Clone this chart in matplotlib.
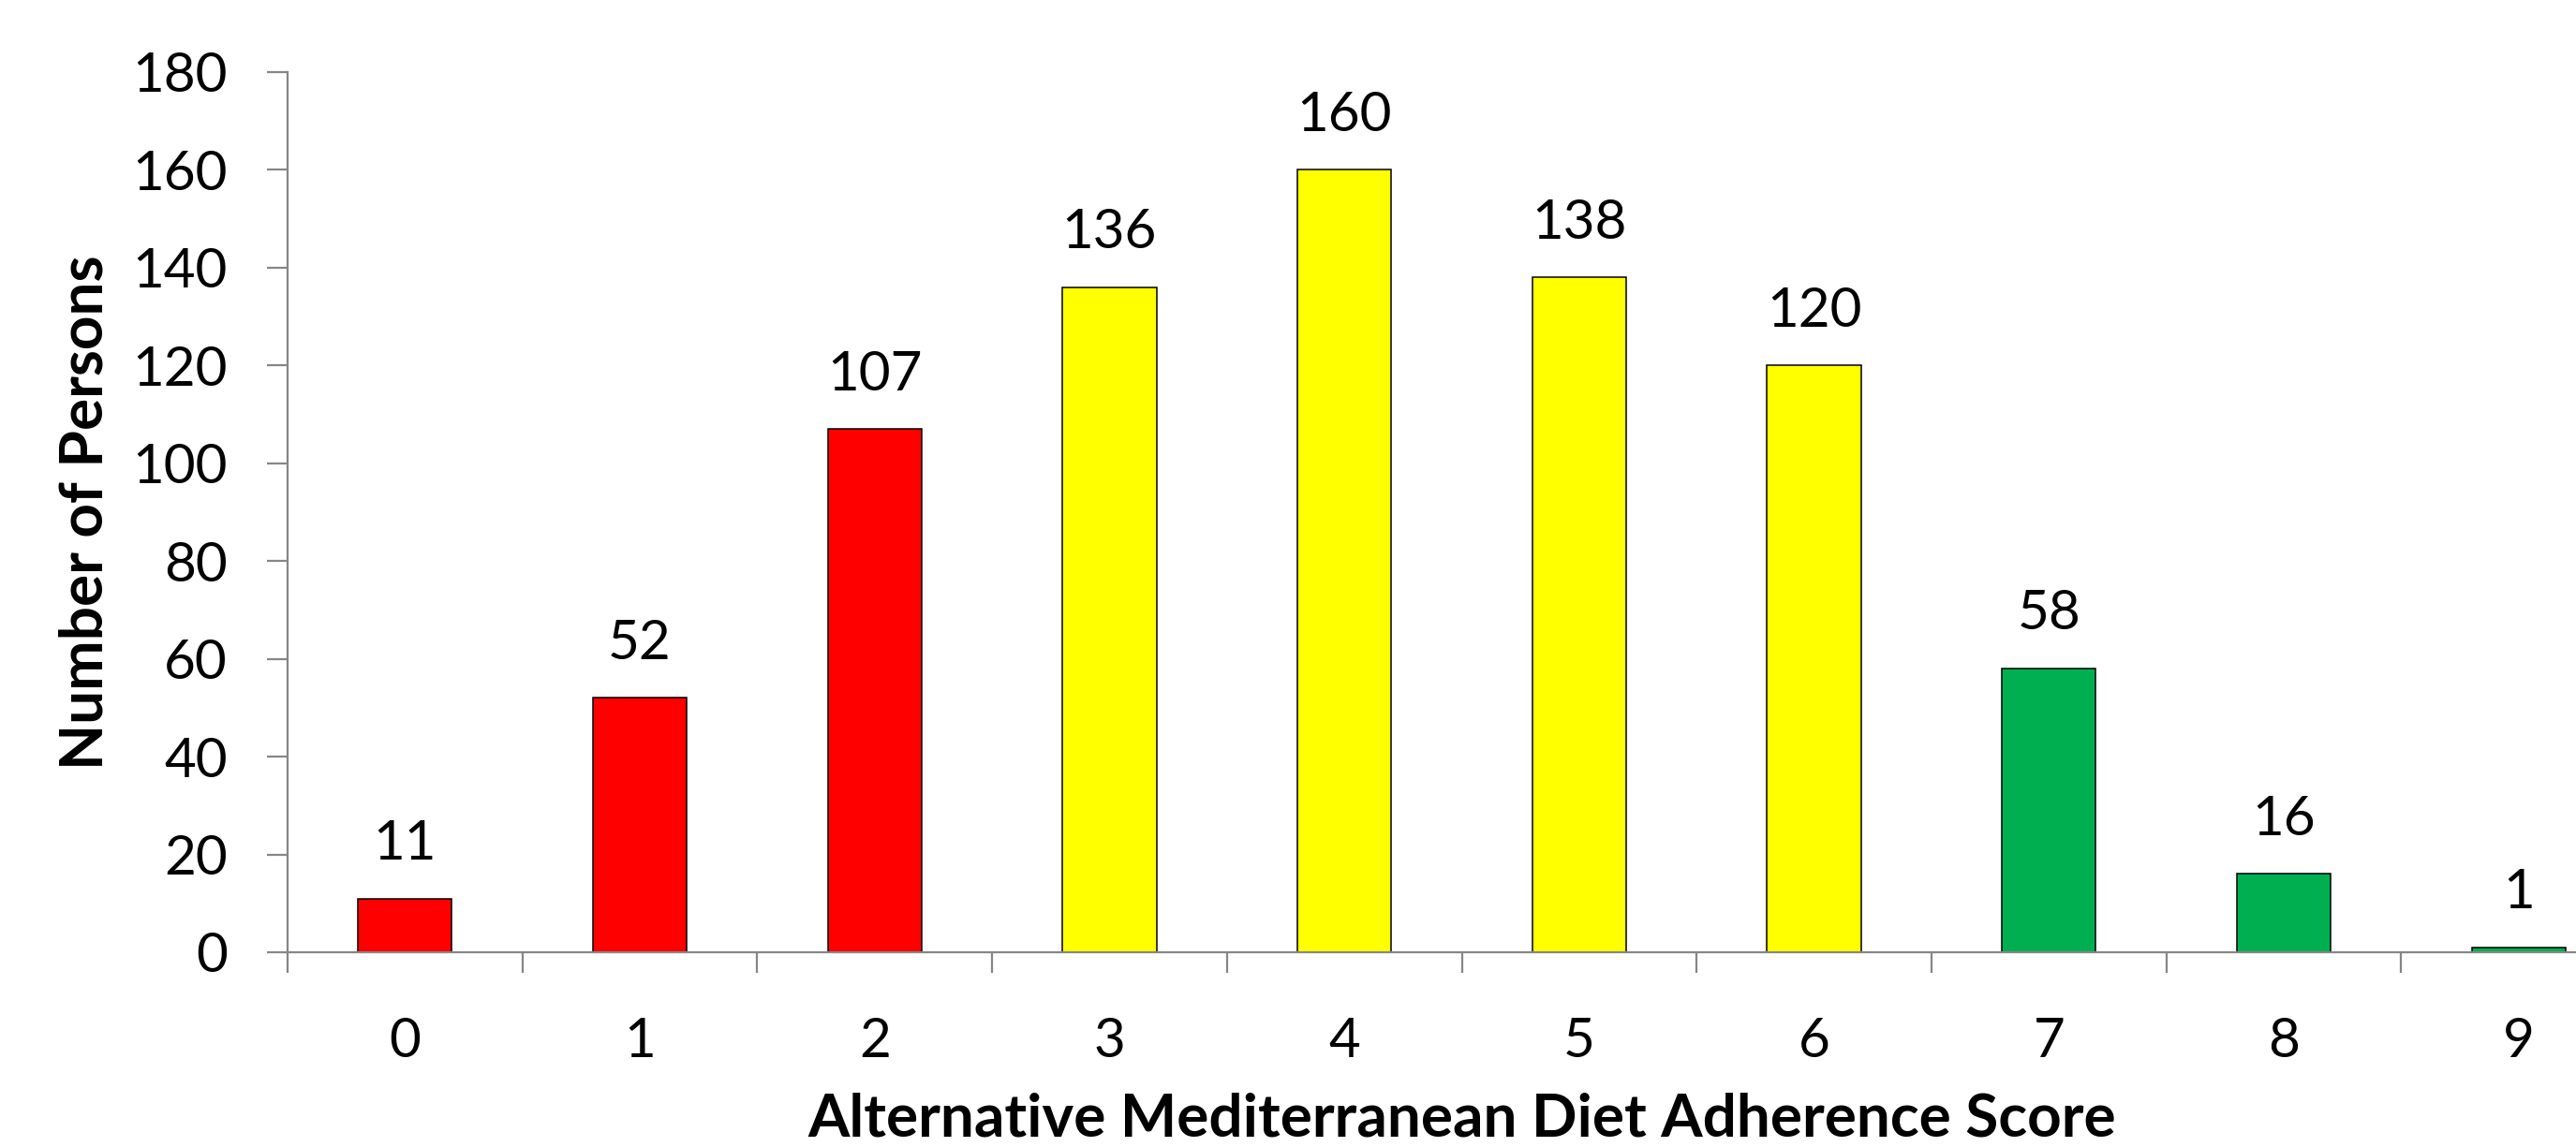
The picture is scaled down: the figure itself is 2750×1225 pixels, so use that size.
import matplotlib.pyplot as plt
import matplotlib.ticker as ticker

# Distribution of scores
scores = [0, 1, 2, 3, 4, 5, 6, 7, 8, 9]
persons = [11, 52, 107, 136, 160, 138, 120, 58, 16, 1]
bar_colors = ['#FF0000', '#FF0000', '#FF0000',
              '#FFFF00', '#FFFF00', '#FFFF00', '#FFFF00',
              '#00B050', '#00B050', '#00B050']
y_ticks = [0, 20, 40, 60, 80, 100, 120, 140, 160, 180]

plt.rcParams['font.family'] = ['Lato', 'DejaVu Sans']

fig = plt.figure(figsize=(27.5, 12.25), dpi=100)
# axis runs past the right edge like in the original picture
ax = fig.add_axes([307 / 2750, 208 / 1225, 2507 / 2750, 940 / 1225])

bars = ax.bar(scores, persons, width=0.4, color=bar_colors,
              edgecolor='black', linewidth=1.1)

for x, v in zip(scores, persons):
    ax.annotate(str(v), (x, v), xytext=(0, 30), textcoords='offset points',
                ha='center', va='baseline', fontsize=42)

ax.set_xlim(-0.5, 9.5)
ax.set_ylim(0, 180)
ax.set_yticks(y_ticks)
ax.set_xticks(scores)
ax.xaxis.set_minor_locator(ticker.FixedLocator([s - 0.5 for s in scores] + [9.5]))

axis_color = '#868686'
for side in ['top', 'right']:
    ax.spines[side].set_visible(False)
for side in ['left', 'bottom']:
    ax.spines[side].set_color(axis_color)
    ax.spines[side].set_linewidth(1.6)

ax.tick_params(axis='y', which='major', length=16, width=1.6, color=axis_color,
               labelsize=42, pad=30)
ax.tick_params(axis='x', which='major', length=0, labelsize=42, pad=50)
ax.tick_params(axis='x', which='minor', length=16, width=1.6, color=axis_color)

ax.set_ylabel('Number of Persons', fontsize=46, fontweight='bold', labelpad=16)
ax.set_xlabel('Alternative Mediterranean Diet Adherence Score', fontsize=46,
              fontweight='bold')
# sit the x label right on the bottom edge of the figure
ax.xaxis.label.set_va('bottom')
ax.xaxis.set_label_coords(0.5, -206 / 940)

fig.savefig('out.png', dpi=100)
